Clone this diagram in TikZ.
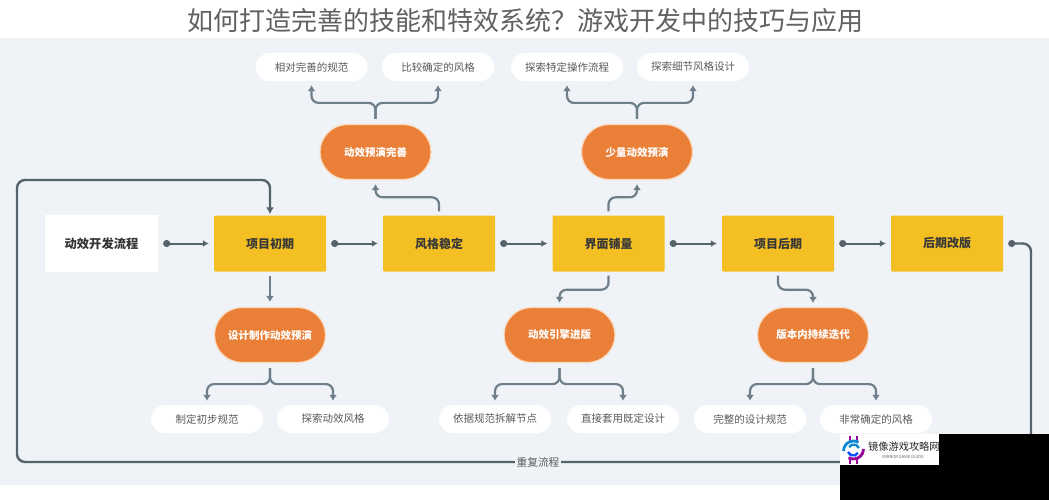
\documentclass[tikz,border=0pt]{standalone}
\usepackage{fontspec}
\setmainfont{Noto Sans CJK SC}
\usetikzlibrary{arrows.meta}
\definecolor{panelbg}{HTML}{EFF3F7}
\definecolor{stageyellow}{HTML}{F4BF22}
\definecolor{rehearseorange}{HTML}{EA7F37}
\definecolor{rehearseedge}{HTML}{FAD9BC}
\definecolor{loopgray}{HTML}{56636D}
\definecolor{branchgray}{HTML}{6E7E8A}
\definecolor{labelgray}{HTML}{5A5A5A}
\newcommand{\sized}[1]{\fontsize{#1}{#1}\selectfont}
\tikzset{
    stagebox/.style={fill=stageyellow,minimum width=112pt,minimum height=56pt,inner sep=0pt,rounded corners=1pt,font=\sized{12}\bfseries,text=black!78},
    rehearse/.style={fill=rehearseorange,draw=rehearseedge,line width=1.2pt,minimum width=111pt,minimum height=55pt,inner sep=0pt,rounded corners=27.5pt,font=\sized{10.5}\bfseries,text=white},
    pill/.style={fill=white,minimum width=112pt,minimum height=28pt,inner sep=0pt,rounded corners=14pt,font=\sized{10.5},text=labelgray},
    flow/.style={draw=loopgray,line width=2pt,{Circle[length=7pt]}-{Latex[length=6pt,width=7pt]}},
    branch/.style={draw=branchgray,line width=2.2pt,rounded corners=7pt,-{Latex[length=6pt,width=8pt]}},
    loopline/.style={draw=loopgray,line width=2.4pt,rounded corners=8pt}
}
\begin{document}
\begin{tikzpicture}[x=1pt,y=-1pt]
    \useasboundingbox (0,0) rectangle (1049,500);
    \fill[panelbg] (0,38) rectangle (1049,485);
    \node (title) at (525,21) {\sized{26}\color{black!62}如何打造完善的技能和特效系统？游戏开发中的技巧与应用};
    \node[fill=white,minimum width=113pt,minimum height=57pt,inner sep=0pt,font=\sized{12.3}\bfseries,text=black!80] (flowstart) at (101.5,243.5) {动效开发流程};
    \foreach \name/\x/\txt in {early/270/项目初期,stable/439/风格稳定,layout/608.5/界面铺量,late/778/项目后期,revamp/947/后期改版}{
        \node[stagebox] (\name) at (\x,243.5) {\txt};
    }
    \foreach \name/\x/\y/\txt in {polish/375.5/152/动效预演完善,sample/637/152/少量动效预演,design/270/335/设计制作动效预演,engine/559.5/335/动效引擎进版,iterate/813/335/版本内持续迭代}{
        \node[rehearse] (\name) at (\x,\y) {\txt};
    }
    \foreach \name/\x/\txt in {specfull/311.5/相对完善的规范,stylefirm/438/比较确定的风格,opflow/567/探索特定操作流程,detail/693/探索细节风格设计}{
        \node[pill] (\name) at (\x,67) {\txt};
    }
    \foreach \name/\x/\txt in {specdraft/207/制定初步规范,styletry/333/探索动效风格,splitnode/495/依据规范拆解节点,reuse/623/直接套用既定设计,specdone/750/完整的设计规范,stylesure/876/非常确定的风格}{
        \node[pill] (\name) at (\x,419) {\txt};
    }
    \foreach \a/\b in {flowstart/early,early/stable,stable/layout,layout/late,late/revamp}{
        \draw[flow] ([xshift=5pt]\a.east) -- ([xshift=-5pt]\b.west);
    }
    \foreach \a/\b in {polish/specfull,polish/stylefirm,sample/opflow,sample/detail}{
        \draw[branch] ([yshift=5pt]\a.north) -- ([yshift=21pt]\a.north) -| ([yshift=-4pt]\b.south);
    }
    \foreach \a/\b in {design/specdraft,design/styletry,engine/splitnode,engine/reuse,iterate/specdone,iterate/stylesure}{
        \draw[branch] ([yshift=-5pt]\a.south) -- ([yshift=-21pt]\a.south) -| ([yshift=4pt]\b.north);
    }
    \foreach \a/\b in {stable/polish,layout/sample}{
        \draw[branch] ([yshift=4pt]\a.north) -- ([yshift=18pt]\a.north) -| ([yshift=-4pt]\b.south);
    }
    \foreach \a/\b in {layout/engine,late/iterate}{
        \draw[branch] ([yshift=-4pt]\a.south) -- ([yshift=-18pt]\a.south) -| ([yshift=4pt]\b.north);
    }
    \draw[branch] ([yshift=-4pt]early.south) -- ([yshift=5pt]design.north);
    \node[fill=panelbg,inner sep=1.5pt,font=\sized{10.7},text=labelgray] (repeatflow) at (538,462) {重复流程};
    \coordinate (loopse) at (1031,462);
    \coordinate (loopsw) at (17,462);
    \coordinate (loopnw) at (17,180);
    \draw[loopline,{Circle[length=7pt]}-] ([xshift=5pt]revamp.east) -| (loopse) -- (repeatflow.east);
    \draw[loopline,-{Latex[length=7pt,width=8pt]}] (repeatflow.west) -- (loopsw) -- (loopnw) -| ([yshift=1pt]early.north);
    \fill[black] (840,465) rectangle (1049,500);
    \fill[black] (939,434) rectangle (1049,465);
    \fill[white] (840,434) rectangle (939,465);
    \draw[violet!80!magenta,line width=1.8pt] (850,436) -- (850,464) (857,436) -- (857,464);
    \fill[white] (853.5,450) circle (10);
    \draw[cyan!70!blue,line width=2.8pt] (843.5,451) arc (180:300:10);
    \draw[violet!80!magenta,line width=2.8pt] (863.5,449) arc (0:120:10);
    \draw[blue!70!cyan,line width=2.4pt] (848,452) arc (160:30:5.5);
    \draw[cyan!70!blue,line width=2.4pt] (859,448) arc (340:210:5.5);
    \begin{scope}
        \clip (840,434) rectangle (939,465);
        \node[inner sep=0pt,anchor=west,text=black!85] (brand) at (868,447) {\sized{10.2}镜像游戏攻略网};
    \end{scope}
    \node[inner sep=0pt,text=black!60] (brandsub) at (903,456.5) {\sized{4.2}MIRROR GAME GUIDE};
\end{tikzpicture}
\end{document}
